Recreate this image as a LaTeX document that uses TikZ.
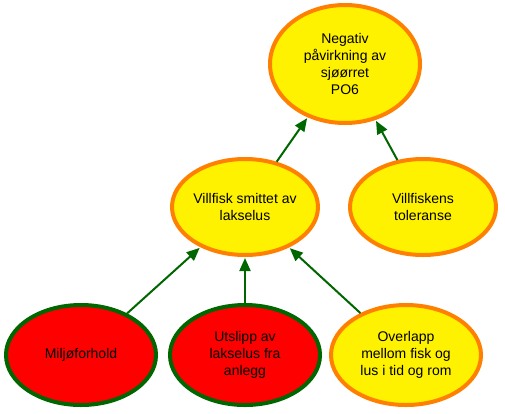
\documentclass[tikz,border=0pt]{standalone}
\usepackage{fontspec}
\setmainfont{Liberation Sans}
\usetikzlibrary{positioning, shapes.geometric, arrows.meta}
\definecolor{gul}{RGB}{255,242,0}
\definecolor{oransje}{RGB}{255,128,0}
\definecolor{rod}{RGB}{255,0,0}
\definecolor{morkgronn}{RGB}{0,102,0}
\begin{document}
\begin{tikzpicture}[
    every node/.style={ellipse, line width=4pt, inner sep=0pt, align=center,
      font=\fontsize{14}{16.7}\selectfont},
    gulnode/.style={draw=oransje, fill=gul},
    rodnode/.style={draw=morkgronn, fill=rod},
    pil/.style={-{Triangle[length=13pt,width=11pt]}, line width=2pt, draw=morkgronn,
      shorten >=1pt},
    on grid]
  \useasboundingbox (0,0) rectangle (505pt,-413pt);
  \node [gulnode, minimum width=150pt, minimum height=118pt] (neg) at (345pt,-64pt)
    {Negativ\\påvirkning av\\sjøørret\\PO6};
  \node [gulnode, minimum width=146pt, minimum height=96pt,
    below left=143pt and 100pt of neg] (smitte) {Villfisk smittet av\\lakselus};
  \node [gulnode, minimum width=146pt, minimum height=96pt,
    right=178pt of smitte] (tol) {Villfiskens\\toleranse};
  \node [rodnode, minimum width=150pt, minimum height=100pt,
    below=148pt of smitte] (utslipp) {Utslipp av\\lakselus fra\\anlegg};
  \node [rodnode, minimum width=150pt, minimum height=100pt,
    left=164pt of utslipp] (miljo) {Miljøforhold};
  \node [gulnode, minimum width=150pt, minimum height=100pt,
    right=161pt of utslipp] (overlapp) {Overlapp\\mellom fisk og\\lus i tid og rom};
  \draw [pil] (smitte) -- (neg);
  \draw [pil] (tol) -- (neg);
  \draw [pil] (miljo) -- (smitte);
  \draw [pil] (utslipp) -- (smitte);
  \draw [pil] (overlapp) -- (smitte);
\end{tikzpicture}
\end{document}
